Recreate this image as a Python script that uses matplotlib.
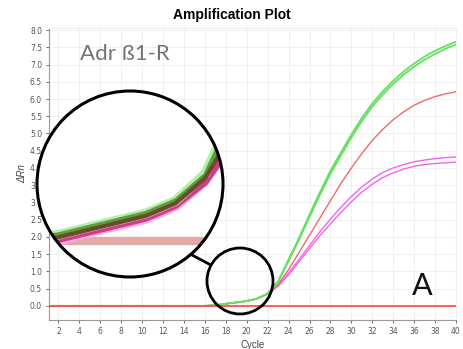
import matplotlib
matplotlib.use("Agg")
import matplotlib.pyplot as plt
from matplotlib.patches import Circle, Ellipse
from matplotlib.lines import Line2D
import matplotlib.transforms as mtransforms

# ---------------- data ----------------
cycles = list(range(1, 41))
green_1 = [0.0, 0.0, 0.0, 0.0, 0.0, 0.0, 0.0, 0.0, 0.0, 0.0, 0.0, 0.0, 0.0, 0.0, 0.0, 0.0,
           0.02, 0.06, 0.10, 0.14, 0.21, 0.36, 0.72, 1.35, 1.97, 2.65, 3.30, 3.92, 4.45, 4.97,
           5.45, 5.87, 6.22, 6.53, 6.80, 7.03, 7.23, 7.40, 7.54, 7.66]
green_2 = [0.0, 0.0, 0.0, 0.0, 0.0, 0.0, 0.0, 0.0, 0.0, 0.0, 0.0, 0.0, 0.0, 0.0, 0.0, 0.0,
           0.02, 0.06, 0.10, 0.14, 0.21, 0.35, 0.70, 1.30, 1.92, 2.58, 3.22, 3.83, 4.36, 4.88,
           5.36, 5.78, 6.13, 6.44, 6.71, 6.94, 7.14, 7.31, 7.46, 7.58]
red_1 = [0.0, 0.0, 0.0, 0.0, 0.0, 0.0, 0.0, 0.0, 0.0, 0.0, 0.0, 0.0, 0.0, 0.0, 0.0, 0.0,
         0.02, 0.06, 0.10, 0.14, 0.21, 0.35, 0.62, 1.05, 1.55, 2.05, 2.55, 3.05, 3.55, 4.00,
         4.42, 4.80, 5.12, 5.40, 5.63, 5.82, 5.96, 6.07, 6.15, 6.21]
magenta_1 = [0.0, 0.0, 0.0, 0.0, 0.0, 0.0, 0.0, 0.0, 0.0, 0.0, 0.0, 0.0, 0.0, 0.0, 0.0, 0.0,
             0.02, 0.06, 0.10, 0.14, 0.21, 0.35, 0.60, 0.95, 1.35, 1.75, 2.15, 2.52, 2.86, 3.17,
             3.45, 3.68, 3.87, 4.00, 4.10, 4.18, 4.23, 4.27, 4.30, 4.32]
magenta_2 = [0.0, 0.0, 0.0, 0.0, 0.0, 0.0, 0.0, 0.0, 0.0, 0.0, 0.0, 0.0, 0.0, 0.0, 0.0, 0.0,
             0.02, 0.06, 0.10, 0.14, 0.21, 0.34, 0.57, 0.90, 1.28, 1.66, 2.04, 2.38, 2.71, 3.02,
             3.30, 3.53, 3.72, 3.86, 3.97, 4.05, 4.10, 4.13, 4.15, 4.17]
threshold = 0.0
x_ticks = list(range(2, 41, 2))
y_ticks = [0.0, 0.5, 1.0, 1.5, 2.0, 2.5, 3.0, 3.5, 4.0, 4.5, 5.0, 5.5, 6.0, 6.5, 7.0, 7.5, 8.0]

# ---------------- figure ----------------
W, H = 464, 349
fig = plt.figure(figsize=(W / 100, H / 100), dpi=100)
fig.patch.set_facecolor("white")

def fx(px):
    return px / W

def fy(py):
    return 1 - py / H

ax = fig.add_axes([fx(49), fy(320), fx(456) - fx(49), fy(28) - fy(320)])
ax.set_xlim(1.1, 40)
ax.set_ylim(-0.41, 8.06)
ax.set_xticks(x_ticks)
ax.set_yticks(y_ticks)
ax.set_yticklabels([f"{v:.1f}" for v in y_ticks])
ax.tick_params(labelsize=5.5, colors="#555555", length=2, width=0.6, pad=3)
ax.grid(True, color="#eeeeee", linewidth=0.6)
ax.set_axisbelow(True)
for s in ["left", "bottom"]:
    ax.spines[s].set_color("#999999")
    ax.spines[s].set_linewidth(0.8)
for s in ["top", "right"]:
    ax.spines[s].set_color("#eeeeee")
    ax.spines[s].set_linewidth(0.8)

ax.plot(cycles, magenta_1, color="#ee66ee", linewidth=1.0, zorder=4)
ax.plot(cycles, magenta_2, color="#ee66ee", linewidth=1.0, zorder=4)
ax.plot(cycles, red_1, color="#f06a6a", linewidth=1.0, zorder=4)
ax.plot(cycles, green_1, color="#66e060", linewidth=1.3, zorder=5)
ax.plot(cycles, green_2, color="#66e060", linewidth=1.3, zorder=5)
ax.axhline(threshold, color="#ff5050", linewidth=1.3, zorder=6)

ax.set_xlabel("Cycle", fontsize=7, color="#444444", labelpad=3, family="Liberation Sans")
ax.set_ylabel("ΔRn", fontsize=7, color="#444444", labelpad=2, style="italic",
              family="Liberation Sans")

fig.text(fx(232), fy(15), "Amplification Plot", ha="center", va="center",
         fontsize=10, fontweight="bold", family="Liberation Sans")
fig.text(fx(80), fy(54), "Adr ß1-R", ha="left", va="center", fontsize=16,
         color="#747474", family="Lato", fontweight="normal")
fig.text(fx(422), fy(286), "A", ha="center", va="center", fontsize=22,
         color="#111111", family="Lato", fontweight="normal")

# ---------------- magnifier ----------------
bx0, by0, bsz = 37, 91, 186
axin = fig.add_axes([fx(bx0), fy(by0 + bsz), fx(bsz), bsz / H])
axin.set_xlim(16.3, 22.6)
axin.set_ylim(-0.2, 0.833)
axin.axis("off")
clip = Circle((0.5, 0.5), 0.5, transform=axin.transAxes, facecolor="white",
              edgecolor="none", zorder=0)
axin.add_patch(clip)
up = mtransforms.offset_copy(axin.transData, fig=fig, x=0, y=2.5, units="dots")
dn = mtransforms.offset_copy(axin.transData, fig=fig, x=0, y=-3, units="dots")
arts = []
arts.append(axin.axhline(threshold, color="#e0a0a0", linewidth=6, alpha=0.9, zorder=1))
arts += axin.plot(cycles, magenta_1, color="#f4b0e6", linewidth=7, transform=dn, zorder=2,
                  solid_joinstyle="round")
arts += axin.plot(cycles, magenta_2, color="#d03c8c", linewidth=4, transform=dn, zorder=3,
                  solid_joinstyle="round")
arts += axin.plot(cycles, green_1, color="#b4f0a4", linewidth=7, transform=up, zorder=3,
                  solid_joinstyle="round")
arts += axin.plot(cycles, green_2, color="#5aa040", linewidth=3.5, transform=up, zorder=4,
                  solid_joinstyle="round")
arts += axin.plot(cycles, red_1, color="#6e4a2c", linewidth=3, zorder=5,
                  solid_joinstyle="round")
for a in arts:
    a.set_clip_path(clip)

big = Circle((0.5, 0.5), 0.5, transform=axin.transAxes, fill=False,
             edgecolor="black", linewidth=2.2, zorder=10, clip_on=False)
axin.add_patch(big)

small = Ellipse((fx(240), fy(281)), 2 * 33 / W, 2 * 33 / H, transform=fig.transFigure,
                fill=False, edgecolor="black", linewidth=2.0, zorder=10)
fig.patches.append(small)
fig.lines.append(Line2D([fx(192), fx(209)], [fy(255), fy(264)], transform=fig.transFigure,
                        color="black", linewidth=2.0))

fig.savefig("out.png", dpi=100)
